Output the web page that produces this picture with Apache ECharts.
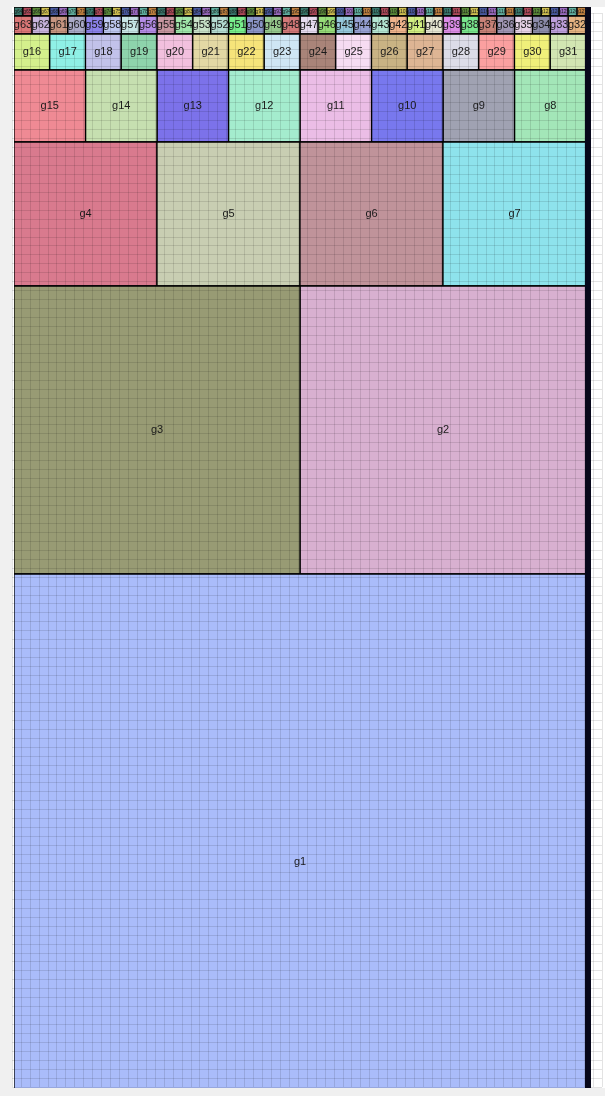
<!DOCTYPE html>
<html>
<head>
<meta charset="utf-8">
<script src="https://cdn.jsdelivr.net/npm/echarts@6/dist/echarts.min.js"></script>
<style>html,body{margin:0;padding:0;background:#f0f0f0;}#c{width:605px;height:1096px;}</style>
</head>
<body>
<div id="c"></div>
<script>
// rows of the treemap, level 0 = g1 (bottom), level 6 = g64..g127 (top)
const levelCounts = [1, 2, 4, 8, 16, 32, 64];
const levelValues = [4096, 1024, 256, 64, 16, 4, 1];
const levelReversed = [false, true, false, true, false, true, false];
const visibleMax = 7687;

const colorsL0 = ['#aabcfa'];
const colorsL1 = ['#d8b0d0', '#989b74'];
const colorsL2 = ['#d97a8e', '#c8ceb2', '#c0939a', '#8ee3ec'];
const colorsL3 = ['#a3e6b8', '#a0a2b2', '#7878ee', '#ebbde6', '#a4ecce', '#7c72ea', '#c6dfb0', '#ef8a94'];
const colorsL4 = ['#d4f08c', '#8ff0e6', '#c2c2ea', '#8ed4ac', '#f2c0de', '#e3d8a4', '#f6e47a', '#cfe6f4',
                  '#a98479', '#f6dcf2', '#c9b384', '#deb594', '#dcdce8', '#fba0a0', '#f0f07a', '#d2e6b2'];
const colorsL5 = ['#e6b482', '#bea0dc', '#8c8caa', '#e6d2e6', '#a096b4', '#c88278', '#78e68c', '#dc8ce6',
                  '#e6e6d2', '#d2f082', '#f0b48c', '#b4e6d2', '#96a0d2', '#96c8dc', '#96dc78', '#e6dcf0',
                  '#d27878', '#96c88c', '#8c96c8', '#78f08c', '#b4dcd2', '#c8e1c8', '#a0e6aa', '#c896a0',
                  '#b48ce6', '#c8e6e6', '#bec8f0', '#8c82eb', '#aaaac8', '#c89682', '#c8b4dc', '#dc7878'];
const colorsL6Palette = ['#3a7a6e', '#b04a5a', '#5a8a3a', '#d0c050', '#4a5aa0', '#9a6ac0', '#60b0a0', '#c08040'];
const levelColors = [colorsL0, colorsL1, colorsL2, colorsL3, colorsL4, colorsL5, null];

// build slice-and-dice layout from values (data space: width 1, row height = row sum)
const items = [];
let yTop = 0;
for (let L = levelCounts.length - 1; L >= 0; L--) {
  const n = levelCounts[L], v = levelValues[L];
  const rowSum = n * v;
  const w = v / rowSum;
  for (let i = 0; i < n; i++) {
    const idx = Math.pow(2, L) + i;
    const pos = levelReversed[L] ? n - 1 - i : i;
    const color = levelColors[L] ? levelColors[L][i] : colorsL6Palette[i % colorsL6Palette.length];
    items.push({
      name: 'g' + idx,
      value: [pos * w, yTop, (pos + 1) * w, yTop + rowSum, v, L],
      color: color
    });
  }
  yTop += rowSum;
}

const chart = echarts.init(document.getElementById('c'), null, {renderer: 'canvas'});

const lineAxis = {
  type: 'value', min: 0, interval: 1, z: 3,
  axisLine: {show: false}, axisTick: {show: false}, axisLabel: {show: false},
  splitLine: {show: true, lineStyle: {color: 'rgba(0,0,0,0.11)', width: 1}}
};

chart.setOption({
  animation: false,
  backgroundColor: '#f0f0f0',
  grid: [
    {left: 14, right: 19, top: 7, bottom: 8},
    {left: 12, right: 3, top: 13, bottom: 9},
    {left: 12, right: 0, top: 7, bottom: 8, show: true, backgroundColor: '#ffffff', borderWidth: 0}
  ],
  xAxis: [
    {gridIndex: 0, type: 'value', min: 0, max: 1, show: false},
    Object.assign({gridIndex: 1, max: 66}, lineAxis),
    {gridIndex: 2, type: 'value', min: 0, max: 1, show: false}
  ],
  yAxis: [
    {gridIndex: 0, type: 'value', inverse: true, min: 0, max: visibleMax, position: 'right', offset: 2, z: 4,
     axisLine: {show: true, onZero: false, lineStyle: {color: '#07071a', width: 6, cap: 'butt'}},
     axisTick: {show: false}, axisLabel: {show: false}, splitLine: {show: false}},
    Object.assign({gridIndex: 1, max: 120}, lineAxis),
    {gridIndex: 2, type: 'value', min: 0, max: 1, show: false}
  ],
  series: [
    {
      type: 'custom', xAxisIndex: 0, yAxisIndex: 0, z: 2, clip: true,
      encode: {x: [0, 2], y: [1, 3]},
      data: items.map(d => ({name: d.name, value: d.value})),
      renderItem: function (params, api) {
        const p0 = api.coord([api.value(0), api.value(1)]);
        const p1 = api.coord([api.value(2), api.value(3)]);
        const it = items[params.dataIndex];
        return {
          type: 'rect',
          shape: {x: p0[0], y: p0[1], width: p1[0] - p0[0], height: p1[1] - p0[1]},
          style: {fill: it.color, stroke: '#000', lineWidth: 1.3}
        };
      }
    },
    {
      type: 'custom', xAxisIndex: 0, yAxisIndex: 0, z: 5, silent: true,
      encode: {x: [0, 2], y: [1, 3]},
      data: items.map(d => ({name: d.name, value: d.value})),
      renderItem: function (params, api) {
        const p0 = api.coord([api.value(0), api.value(1)]);
        const p1 = api.coord([api.value(2), api.value(3)]);
        const it = items[params.dataIndex];
        const L = api.value(5);
        return {
          type: 'text',
          x: (p0[0] + p1[0]) / 2,
          y: (p0[1] + p1[1]) / 2,
          style: {
            text: it.name, fill: '#1a1a1a',
            fontSize: L === 6 ? 5 : 11,
            fontFamily: 'Liberation Sans, Arial, sans-serif',
            align: 'center', verticalAlign: 'middle'
          }
        };
      }
    }
  ]
});
</script>
</body>
</html>
